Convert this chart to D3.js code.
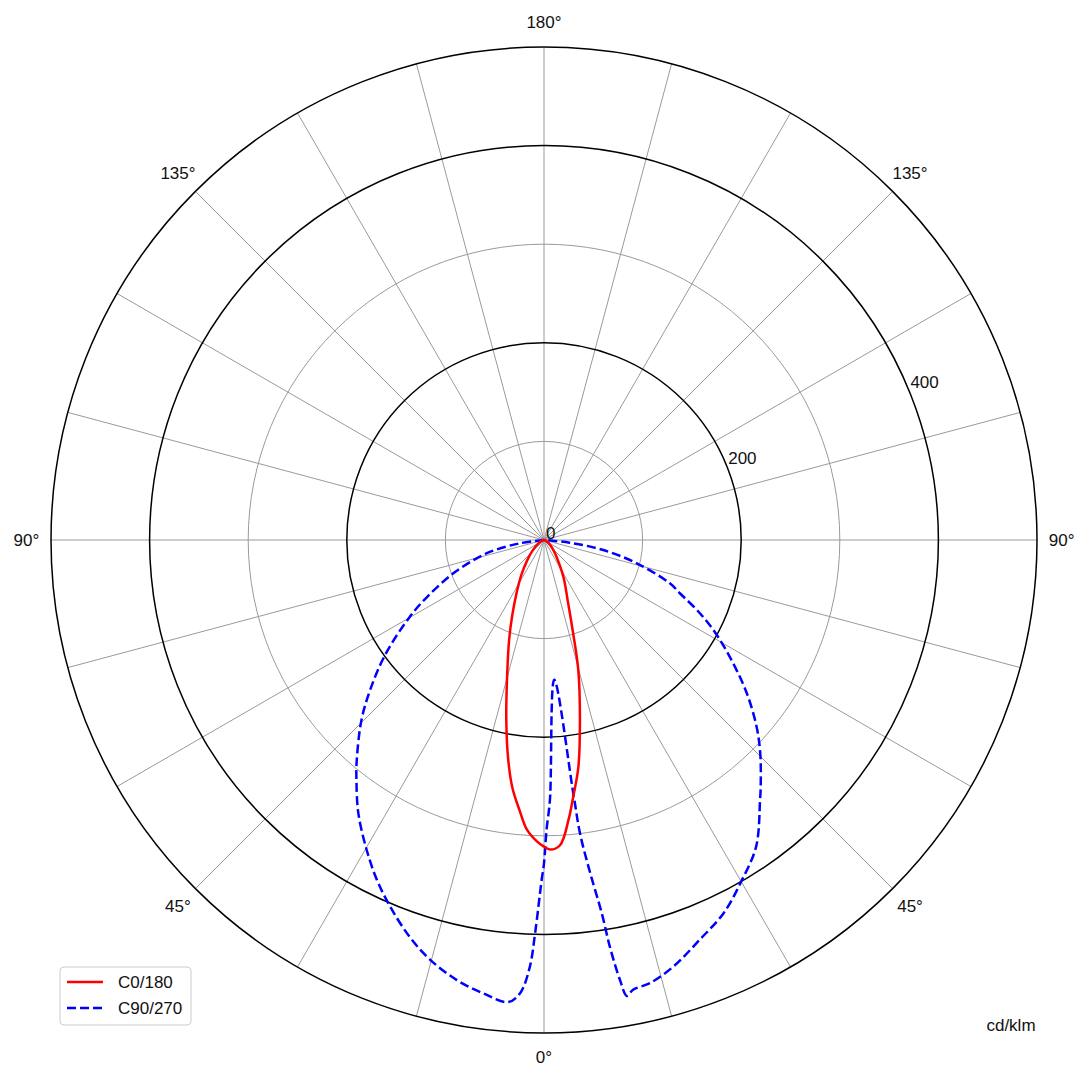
<!DOCTYPE html>
<html>
<head>
<meta charset="utf-8">
<script src="https://cdn.jsdelivr.net/npm/d3@7"></script>
<style>
  html, body { margin: 0; padding: 0; background: #fff; }
  svg { display: block; font-family: "Liberation Sans", Arial, sans-serif; }
</style>
</head>
<body>
<svg id="chart" width="1089" height="1080"></svg>
<script>
// ---- data (gamma in degrees, negative = left half; values in cd/klm) ----
const c0Angles = [-90, -75, -60, -48, -40, -33, -27, -23, -19.3, -14.8, -11.8, -9.3, -7.3, -5.1, -3.4, -1.3, 0,
                  1.1, 3, 5, 6.5, 8.6, 11.3, 14.8, 17.8, 21, 27.5, 36.8, 43, 55, 70, 90];
const c0Values = [0, 2, 6, 15, 26, 42, 62, 82, 107, 147, 187, 225, 253, 276, 294, 306, 311,
                  314, 310, 285, 262, 233, 186, 136, 94, 68, 43, 21, 14, 6, 2, 0];

const c90Angles = [-90, -82.2, -76.9, -69.8, -64, -60.2, -54.1, -49.2, -45.4, -40.4, -38, -34.2, -29.8, -26.2,
                   -22.8, -18.7, -15.2, -11.2, -7.6, -4.4, -3.0, -1.9, -1.3, -0.4, 0, 0.5, 1.3, 4.2, 6.6, 7.0,
                   7.9, 8.8, 9.2, 9.8, 10.3, 11.2, 13.5, 16.9, 21.3, 25.7, 30, 34.7, 39.7, 41.3, 45.4, 48.7,
                   52.9, 56.9, 61.2, 64.8, 68.6, 71, 75.9, 80.4, 84, 90];
const c90Values = [0, 25, 60, 98, 132, 157, 199, 233, 260, 293, 309, 335, 362, 384,
                   403, 425, 441, 455, 464, 470, 460, 433, 399, 345, 328, 294, 264, 142, 259, 300,
                   341, 383, 418, 453, 470, 465, 462, 452, 435, 420, 400, 378, 343, 333, 308, 287,
                   258, 229, 200, 175, 148, 135, 97, 61, 26, 0];

const ringValues = [100, 200, 300, 400, 500];
const ringMajor = [200, 400, 500];
const rTickLabels = ["0", "200", "400"];
const rTickValues = [0, 200, 400];
const spokeAngles = d3.range(0, 360, 15);
const angleLabelGammas = [0, 45, 90, 135, 180, -45, -90, -135];
const angleLabelTexts = ["0°", "45°", "90°", "135°", "180°", "45°", "90°", "135°"];
const seriesNames = ["C0/180", "C90/270"];
const unitLabel = "cd/klm";

// ---- layout ----
const svg = d3.select("#chart");
const cx = 544, cy = 540;
const r = d3.scaleLinear().domain([0, 500]).range([0, 493]);
// gamma measured from bottom, positive to the right -> d3 radial angle
const ang = d3.scaleLinear().domain([-180, 180]).range([2 * Math.PI, 0]);
const px = (g, v) => cx + r(v) * Math.sin(ang(g));
const py = (g, v) => cy - r(v) * Math.cos(ang(g));

const g = svg.append("g");

// spokes
g.selectAll("line.spoke").data(spokeAngles).join("line")
  .attr("class", "spoke")
  .attr("x1", cx).attr("y1", cy)
  .attr("x2", d => px(d, 500)).attr("y2", d => py(d, 500))
  .attr("stroke", "#9a9a9a").attr("stroke-width", 1);

// rings
g.selectAll("circle.ring").data(ringValues).join("circle")
  .attr("class", "ring")
  .attr("cx", cx).attr("cy", cy).attr("r", d => r(d))
  .attr("fill", "none")
  .attr("stroke", d => ringMajor.includes(d) ? "#000" : "#9a9a9a")
  .attr("stroke-width", d => ringMajor.includes(d) ? 1.5 : 1);

// radial tick labels at 22.5° above horizontal on the right
g.selectAll("text.rtick").data(rTickValues).join("text")
  .attr("class", "rtick")
  .attr("x", d => px(112.5, d) + 2)
  .attr("y", d => py(112.5, d) - 1)
  .attr("font-size", 17).attr("fill", "#111")
  .text((d, i) => rTickLabels[i]);

// angle labels
g.selectAll("text.alabel").data(angleLabelGammas).join("text")
  .attr("class", "alabel")
  .attr("x", d => px(d, 525)).attr("y", d => py(d, 525))
  .attr("text-anchor", "middle").attr("dominant-baseline", "central")
  .attr("font-size", 17).attr("fill", "#111")
  .text((d, i) => angleLabelTexts[i]);

// curves
const line = d3.lineRadial()
  .angle(d => ang(d[0]))
  .radius(d => r(d[1]))
  .curve(d3.curveCatmullRom.alpha(0.5));

const c0Data = c0Angles.map((a, i) => [a, c0Values[i]]);
const c90Data = c90Angles.map((a, i) => [a, c90Values[i]]);

const plot = svg.append("g").attr("transform", `translate(${cx},${cy})`);
plot.append("path").datum(c90Data)
  .attr("d", line).attr("fill", "none")
  .attr("stroke", "#0000ff").attr("stroke-width", 2.5)
  .attr("stroke-dasharray", "9,4").attr("stroke-linejoin", "round");
plot.append("path").datum(c0Data)
  .attr("d", line).attr("fill", "none")
  .attr("stroke", "#ff0000").attr("stroke-width", 2.5).attr("stroke-linejoin", "round");

// legend
const lg = svg.append("g").attr("transform", "translate(60,967)");
lg.append("rect").attr("x", 0).attr("y", 0).attr("width", 131).attr("height", 58)
  .attr("rx", 4).attr("fill", "#fff").attr("stroke", "#cccccc").attr("stroke-width", 1);
const legendItems = [
  { name: seriesNames[0], color: "#ff0000", dash: null },
  { name: seriesNames[1], color: "#0000ff", dash: "9,4" }
];
legendItems.forEach((it, i) => {
  const yy = 15 + i * 26;
  lg.append("line").attr("x1", 7).attr("x2", 43).attr("y1", yy).attr("y2", yy)
    .attr("stroke", it.color).attr("stroke-width", 2.5)
    .attr("stroke-dasharray", it.dash);
  lg.append("text").attr("x", 58).attr("y", yy).attr("dominant-baseline", "central")
    .attr("font-size", 17).attr("fill", "#111").text(it.name);
});

// unit label
svg.append("text").attr("x", 1011).attr("y", 1025)
  .attr("text-anchor", "middle").attr("dominant-baseline", "central")
  .attr("font-size", 17).attr("fill", "#111").text(unitLabel);
</script>
</body>
</html>
